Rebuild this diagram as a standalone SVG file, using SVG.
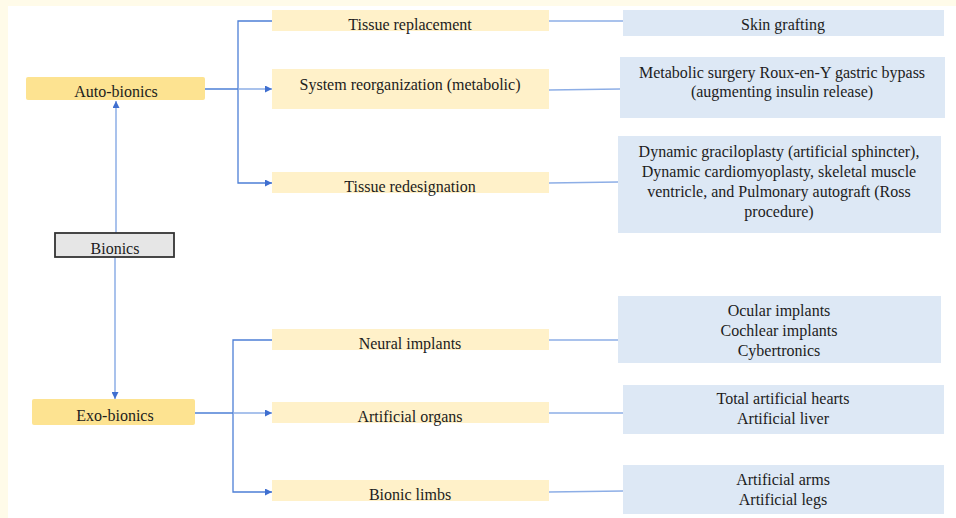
<svg xmlns="http://www.w3.org/2000/svg" width="956" height="518" viewBox="0 0 956 518" font-family="'Liberation Serif', 'DejaVu Serif', serif">
<style>
text{font-family:'Liberation Serif','DejaVu Serif',serif;font-size:16px;fill:#1c1c1c;text-anchor:middle}
.top{fill:#fde391}
.mid{fill:#fff1c9}
.leaf{fill:#dde8f5}
.con{fill:none;stroke:#4d7fd6;stroke-width:1.3}
.conl{fill:none;stroke:#8daee6;stroke-width:1.5}
</style>
<defs>
<marker id="ah" viewBox="0 0 10 10" refX="10" refY="5" markerWidth="7" markerHeight="7" markerUnits="userSpaceOnUse" orient="auto">
<path d="M0,0 L10,5 L0,10 z" fill="#3f6fd0"/>
</marker>
</defs>
<rect x="0" y="0" width="956" height="518" fill="#fffbe9"/>
<rect x="8" y="6" width="948" height="512" fill="#ffffff"/>
<g id="connectors">
<path class="conl" d="M116,233 L116,101" marker-end="url(#ah)"/>
<path class="conl" d="M115,257 L115,399" marker-end="url(#ah)"/>
<path class="con" d="M205,89 L238,89"/>
<path class="con" d="M272,21 L238,21 L238,183 L272,183" marker-start="url(#ah)" marker-end="url(#ah)"/>
<path class="conl" d="M238,89 L272,89" marker-end="url(#ah)"/>
<path class="con" d="M195,413 L233,413"/>
<path class="con" d="M272,340 L233,340 L233,492 L272,492" marker-start="url(#ah)" marker-end="url(#ah)"/>
<path class="conl" d="M233,413 L272,413" marker-end="url(#ah)"/>
<path class="conl" d="M549,21 L623,21"/>
<path class="conl" d="M549,90 L620,89"/>
<path class="conl" d="M549,183 L618,182"/>
<path class="conl" d="M549,340 L618,340"/>
<path class="conl" d="M549,413 L623,413"/>
<path class="conl" d="M549,492 L623,491"/>
</g>
<g id="auto-bionics"><rect class="top" x="26" y="77" width="179" height="23" rx="2"/><text x="116" y="97">Auto-bionics</text></g>
<g id="bionics"><rect x="55" y="233" width="119" height="24" fill="#e6e6e6" stroke="#333" stroke-width="1.8"/><text x="115" y="254">Bionics</text></g>
<g id="exo-bionics"><rect class="top" x="32" y="399" width="163" height="26" rx="2"/><text x="115" y="421">Exo-bionics</text></g>
<g id="tissue-replacement"><rect class="mid" x="272" y="10" width="277" height="21"/><text x="410" y="30">Tissue replacement</text></g>
<g id="system-reorganization"><rect class="mid" x="272" y="69" width="277" height="40"/><text x="410" y="90">System reorganization (metabolic)</text></g>
<g id="tissue-redesignation"><rect class="mid" x="272" y="172" width="277" height="21"/><text x="410" y="192">Tissue redesignation</text></g>
<g id="neural-implants"><rect class="mid" x="272" y="329" width="277" height="21"/><text x="410" y="349">Neural implants</text></g>
<g id="artificial-organs"><rect class="mid" x="272" y="402" width="277" height="21"/><text x="410" y="422">Artificial organs</text></g>
<g id="bionic-limbs"><rect class="mid" x="272" y="480" width="277" height="21"/><text x="410" y="500">Bionic limbs</text></g>
<g id="skin-grafting"><rect class="leaf" x="623" y="10" width="321" height="26"/><text x="783" y="30">Skin grafting</text></g>
<g id="metabolic-surgery"><rect class="leaf" x="620" y="57" width="325" height="61"/><text x="782" y="78">Metabolic surgery Roux-en-Y gastric bypass</text><text x="782" y="97">(augmenting insulin release)</text></g>
<g id="dynamic"><rect class="leaf" x="618" y="136" width="323" height="97"/><text x="779" y="157">Dynamic graciloplasty (artificial sphincter),</text><text x="779" y="177">Dynamic cardiomyoplasty, skeletal muscle</text><text x="779" y="197">ventricle, and Pulmonary autograft (Ross</text><text x="779" y="217">procedure)</text></g>
<g id="neural-examples"><rect class="leaf" x="618" y="296" width="323" height="67"/><text x="779" y="316">Ocular implants</text><text x="779" y="336">Cochlear implants</text><text x="779" y="356">Cybertronics</text></g>
<g id="organ-examples"><rect class="leaf" x="623" y="385" width="321" height="49"/><text x="783" y="404">Total artificial hearts</text><text x="783" y="424">Artificial liver</text></g>
<g id="limb-examples"><rect class="leaf" x="623" y="465" width="321" height="49"/><text x="783" y="485">Artificial arms</text><text x="783" y="505">Artificial legs</text></g>
</svg>
